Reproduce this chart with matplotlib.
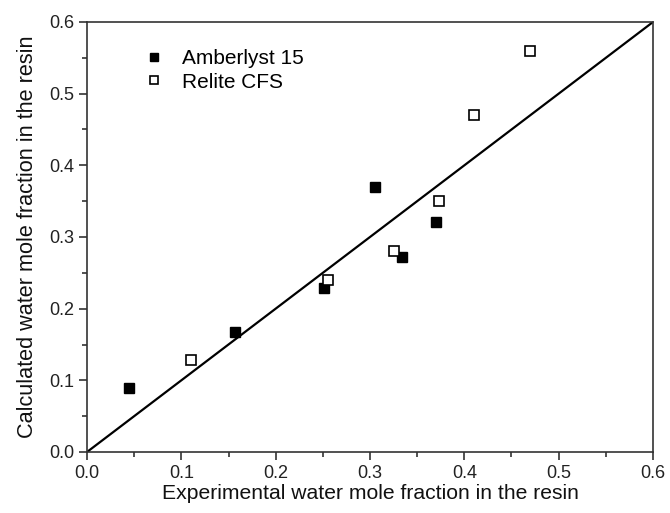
import matplotlib
matplotlib.use("Agg")
import matplotlib.pyplot as plt
from matplotlib.ticker import MultipleLocator

plt.rcParams["font.family"] = ["Liberation Sans", "DejaVu Sans"]

# Amberlyst 15 (filled squares)
amb_exp = [0.044, 0.157, 0.251, 0.305, 0.334, 0.370]
amb_calc = [0.089, 0.167, 0.229, 0.370, 0.272, 0.321]

# Relite CFS (open squares)
rel_exp = [0.110, 0.256, 0.325, 0.373, 0.410, 0.470]
rel_calc = [0.129, 0.240, 0.281, 0.350, 0.470, 0.560]

diag = [0.0, 0.6]

fig = plt.figure(figsize=(6.7, 5.13), dpi=100)
ax = fig.add_axes([87 / 670, 1 - 452 / 513, (653 - 87) / 670, (452 - 22) / 513])

ax.plot(diag, diag, color="black", lw=1.6, zorder=2)
ax.plot(amb_exp, amb_calc, ls="none", marker="s", ms=7, mfc="black",
        mec="black", label="Amberlyst 15", zorder=3)
ax.plot(rel_exp, rel_calc, ls="none", marker="s", ms=6.5, mfc="white",
        mec="black", mew=1.2, label="Relite CFS", zorder=3)

ax.set_xlim(0, 0.6)
ax.set_ylim(0, 0.6)
ax.xaxis.set_major_locator(MultipleLocator(0.1))
ax.yaxis.set_major_locator(MultipleLocator(0.1))
ax.xaxis.set_minor_locator(MultipleLocator(0.05))
ax.yaxis.set_minor_locator(MultipleLocator(0.05))
ax.tick_params(which="both", direction="out", top=False, right=False,
               width=1.2, labelsize=13, color="#333333", labelcolor="#222222")
ax.tick_params(which="major", length=6, pad=3)
ax.tick_params(which="minor", length=3.5)
for s in ax.spines.values():
    s.set_linewidth(1.2)
    s.set_color("#333333")

ax.set_xlabel("Experimental water mole fraction in the resin", fontsize=15.2,
              labelpad=2, color="#111111")
ax.set_ylabel("Calculated water mole fraction in the resin", fontsize=15.6,
              labelpad=8, color="#111111")

ax.legend(loc="upper left", bbox_to_anchor=(0.07, 0.98), frameon=False,
          fontsize=15, handlelength=0.8, handletextpad=0.95, labelspacing=0.2,
          markerscale=0.85)

fig.savefig("out.png", dpi=100)
